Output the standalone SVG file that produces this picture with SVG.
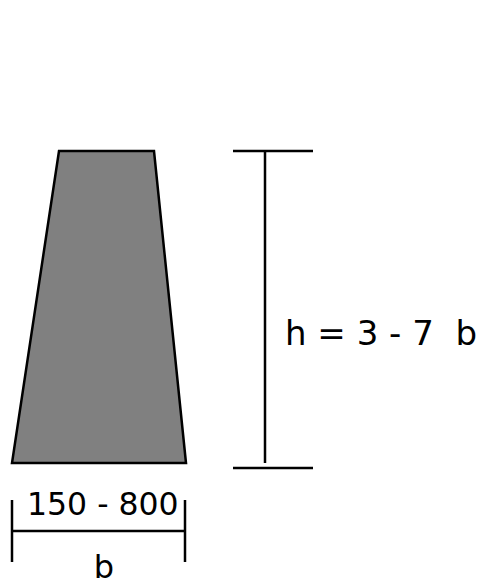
<svg xmlns="http://www.w3.org/2000/svg" width="479" height="586" viewBox="0 0 479 586">
<style>
.dim{stroke:#000;stroke-width:2.5;fill:none}
.t{font-family:"DejaVu Sans",Verdana,sans-serif;font-size:32px;fill:#000}
</style>
<rect width="479" height="586" fill="#fff"/>
<g id="section">
<polygon points="59,151 154,151 186,463 12,463" fill="#808080" stroke="#000" stroke-width="2.5" stroke-linejoin="miter"/>
</g>
<g id="connectors">
<line class="dim" x1="233" y1="151" x2="313" y2="151"/>
<line class="dim" x1="233" y1="468" x2="313" y2="468"/>
<line class="dim" x1="265" y1="151" x2="265" y2="463"/>
<line class="dim" x1="12" y1="500" x2="12" y2="562"/>
<line class="dim" x1="185" y1="500" x2="185" y2="562"/>
<line class="dim" x1="12" y1="531" x2="185" y2="531"/>
</g>
<g id="labels">
<text class="t" x="285" y="345" style="font-size:34px" xml:space="preserve">h = 3 - 7  b</text>
<text class="t" x="27" y="515" style="font-size:31.5px">150 - 800</text>
<text class="t" x="104" y="578" text-anchor="middle">b</text>
</g>
</svg>
